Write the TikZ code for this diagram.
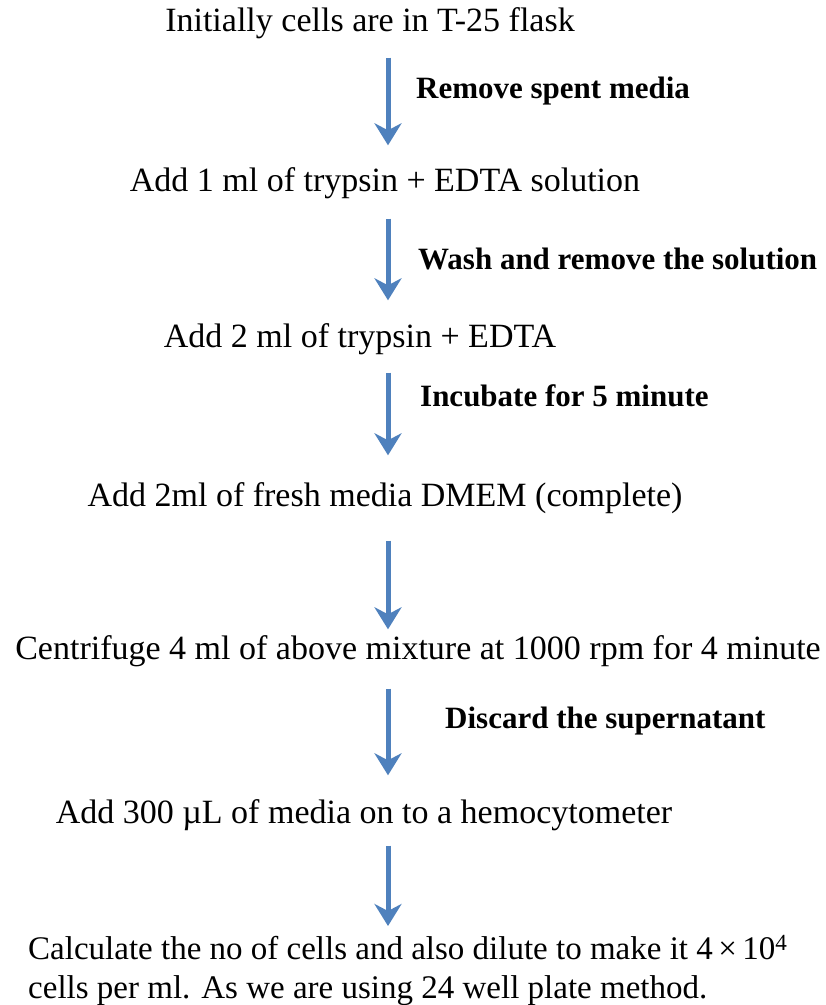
\documentclass[tikz,border=0pt]{standalone}
\usepackage{fontspec}
\setmainfont{Liberation Serif}
\usetikzlibrary{arrows.meta}
\definecolor{arrblue}{RGB}{79,129,189}
\tikzset{
  stepbox/.style={inner sep=0pt, text height=23pt, text depth=8pt, font=\fontsize{34}{40}\selectfont},
  lbl/.style={inner sep=0pt, anchor=west, font=\fontsize{31}{36}\selectfont\bfseries},
  arr/.style={draw=arrblue, line width=5pt, -{Stealth[length=22pt,width=27pt,inset=7pt]}}
}
\begin{document}
\begin{tikzpicture}[x=1pt,y=-1pt]
\useasboundingbox (0,0) rectangle (826,1005);
\coordinate (ax) at (388,0);
\node[stepbox] (t1) at (370,24) {Initially cells are in T-25 flask};
\node[stepbox] (t2) at (385,184) {Add 1 ml of trypsin + EDTA solution};
\node[stepbox] (t3) at (360,340) {Add 2 ml of trypsin + EDTA};
\node[stepbox] (t4) at (385,499) {Add 2ml of fresh media DMEM (complete)};
\node[stepbox] (t5) at (418,652) {Centrifuge 4 ml of above mixture at 1000 rpm for 4 minute};
\node[stepbox] (t6) at (364,816) {Add 300 µL of media on to a hemocytometer};
\node[stepbox, anchor=north west, align=left, text height=, text depth=, font=\fontsize{33}{39}\selectfont] (t7) at (28,935) {Calculate the no of cells and also dilute to make it 4\,×\,10\textsuperscript{4}\\cells per ml. As we are using 24 well plate method.};
\node[lbl] (l1) at (416,91) {Remove spent media};
\node[lbl] (l2) at (418,259) {Wash and remove the solution};
\node[lbl] (l3) at (420,396) {Incubate for 5 minute};
\node[lbl] (l5) at (445,721) {Discard the supernatant};
\draw[arr, shorten <=18pt, shorten >=23pt] (t1.south -| ax) -- (t2.north -| ax);
\draw[arr, shorten <=19pt, shorten >=24pt] (t2.south -| ax) -- (t3.north -| ax);
\draw[arr, shorten <=17pt, shorten >=28pt] (t3.south -| ax) -- (t4.north -| ax);
\draw[arr, shorten <=26pt, shorten >=7pt] (t4.south -| ax) -- (t5.north -| ax);
\draw[arr, shorten <=21pt, shorten >=25pt] (t5.south -| ax) -- (t6.north -| ax);
\draw[arr, shorten <=14pt, shorten >=9pt] (t6.south -| ax) -- (t7.north -| ax);
\end{tikzpicture}
\end{document}
